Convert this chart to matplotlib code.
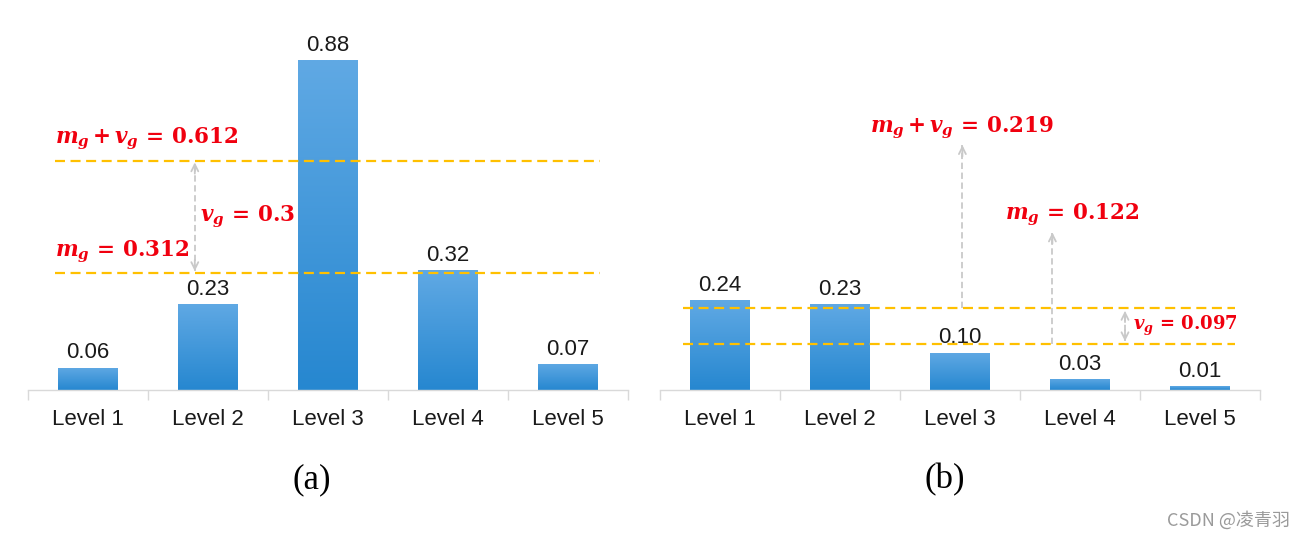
import numpy as np
import matplotlib
matplotlib.use("Agg")
import matplotlib.pyplot as plt
from matplotlib.colors import LinearSegmentedColormap

# data
levels = ["Level 1", "Level 2", "Level 3", "Level 4", "Level 5"]
values_a = [0.06, 0.23, 0.88, 0.32, 0.07]
values_b = [0.24, 0.23, 0.10, 0.03, 0.01]
mg_a, vg_a = 0.312, 0.3
mg_b, vg_b = 0.122, 0.097
panel_labels = ["(a)", "(b)"]

plt.rcParams["font.family"] = ["Liberation Sans", "DejaVu Sans"]
plt.rcParams["mathtext.fontset"] = "custom"
plt.rcParams["mathtext.bf"] = "DejaVu Serif:bold"
plt.rcParams["mathtext.bfit"] = "DejaVu Serif:italic:bold"
plt.rcParams["mathtext.rm"] = "DejaVu Serif:bold"

BAR_TOP = "#60A9E4"
BAR_BOT = "#2687D0"
GOLD = "#FFC000"
RED = "#F0000F"
GREY = "#C9C9C9"
AXIS = "#D9D9D9"

cmap = LinearSegmentedColormap.from_list("bar", [BAR_BOT, BAR_TOP])
grad = np.linspace(0, 1, 256).reshape(-1, 1)


def num(v):
    return f"{v:.3f}".rstrip("0").rstrip(".")


def math_sum(v):
    return (r"$\mathbfit{m}_{\mathbfit{g}}\,\mathbf{+}\,\mathbfit{v}_{\mathbfit{g}}"
            r"\,\mathbf{=}\,\mathbf{%s}$" % num(v))


def math_m(v):
    return r"$\mathbfit{m}_{\mathbfit{g}}\,\mathbf{=}\,\mathbf{%s}$" % num(v)


def math_v(v):
    return r"$\mathbfit{v}_{\mathbfit{g}}\,\mathbf{=}\,\mathbf{%s}$" % num(v)


def bar_panel(ax, values):
    x = np.arange(len(levels))
    bars = ax.bar(x, values, width=0.5, color=BAR_BOT, zorder=2)
    for b in bars:
        x0, y0 = b.get_xy()
        im = ax.imshow(grad, extent=[x0, x0 + b.get_width(), y0, y0 + b.get_height()],
                       origin="lower", cmap=cmap, aspect="auto", zorder=2.5)
        im.set_clip_path(b)
    for xi, v in zip(x, values):
        ax.annotate(f"{v:.2f}", (xi, v), xytext=(0, 3), textcoords="offset points",
                    ha="center", va="bottom", fontsize=16, color="#1a1a1a")
    ax.set_xlim(-0.5, len(levels) - 0.5)
    ax.set_ylim(0, 0.96)
    for s in ["top", "left", "right"]:
        ax.spines[s].set_visible(False)
    ax.spines["bottom"].set_color(AXIS)
    ax.spines["bottom"].set_linewidth(1.0)
    ax.set_yticks([])
    ax.set_xticks(x)
    ax.set_xticklabels(levels, fontsize=16, color="#1a1a1a")
    ax.tick_params(axis="x", which="major", length=0, pad=14)
    ax.set_xticks(np.arange(len(levels) + 1) - 0.5, minor=True)
    ax.tick_params(axis="x", which="minor", length=7, color=AXIS, width=1.0)


def hline(ax, y, x0, x1):
    ax.plot([x0, x1], [y, y], color=GOLD, lw=1.6, ls=(0, (4.5, 2.5)), zorder=3)


def head(ax, x, y, up=True):
    d = 0.03 if up else -0.03
    ax.annotate("", xy=(x, y), xytext=(x, y - d),
                arrowprops=dict(arrowstyle="->,head_length=0.5,head_width=0.25",
                                color=GREY, lw=1.3, shrinkA=0, shrinkB=0), zorder=3)


def arrow(ax, x, y0, y1, both=False):
    ax.plot([x, x], [y0, y1], color=GREY, lw=1.3, ls=(0, (3.5, 2)), zorder=3)
    head(ax, x, y1, up=y1 > y0)
    if both:
        head(ax, x, y0, up=y0 > y1)


fig = plt.figure(figsize=(13.06, 5.38), dpi=100)
ax_a = fig.add_axes([28 / 1306, 148 / 538, 600 / 1306, 360 / 538])
ax_b = fig.add_axes([660 / 1306, 148 / 538, 600 / 1306, 360 / 538])

bar_panel(ax_a, values_a)
bar_panel(ax_b, values_b)

# panel (a) annotations
top_a = mg_a + vg_a
hline(ax_a, top_a, -0.275, 4.27)
hline(ax_a, mg_a, -0.275, 4.27)
arrow(ax_a, 0.89, mg_a + 0.005, top_a - 0.005, both=True)
ax_a.annotate(math_sum(top_a), (-0.275, top_a), xytext=(0, 6), textcoords="offset points",
              ha="left", va="bottom", fontsize=15.5, color=RED)
ax_a.annotate(math_m(mg_a), (-0.275, mg_a), xytext=(0, 6), textcoords="offset points",
              ha="left", va="bottom", fontsize=15.5, color=RED)
ax_a.text(0.93, (mg_a + top_a) / 2, math_v(vg_a), ha="left", va="center",
          fontsize=15.5, color=RED)

# panel (b) annotations
top_b = mg_b + vg_b
hline(ax_b, top_b, -0.31, 4.29)
hline(ax_b, mg_b, -0.31, 4.29)
arrow(ax_b, 2.02, top_b, 0.653)
arrow(ax_b, 2.77, mg_b, 0.42)
arrow(ax_b, 3.375, mg_b + 0.008, top_b - 0.008, both=True)
ax_b.annotate(math_sum(top_b), (1.25, 0.653), xytext=(0, 3), textcoords="offset points",
              ha="left", va="bottom", fontsize=15.5, color=RED)
ax_b.annotate(math_m(mg_b), (2.375, 0.42), xytext=(0, 3), textcoords="offset points",
              ha="left", va="bottom", fontsize=15.5, color=RED)
ax_b.text(3.44, (mg_b + top_b) / 2, math_v(vg_b), ha="left", va="center",
          fontsize=13, color=RED)

for lbl, xc in zip(panel_labels, [312, 945]):
    fig.text(xc / 1306, 1 - 480 / 538, lbl, family="Liberation Serif", fontsize=25,
             ha="center", va="center")

fig.text(1290 / 1306, 1 - 520 / 538, "CSDN @凌青羽", ha="right", va="center",
         fontsize=13, color="#9a9a9a", family=["Noto Sans CJK SC", "DejaVu Sans"])

fig.savefig("out.png", dpi=100)
